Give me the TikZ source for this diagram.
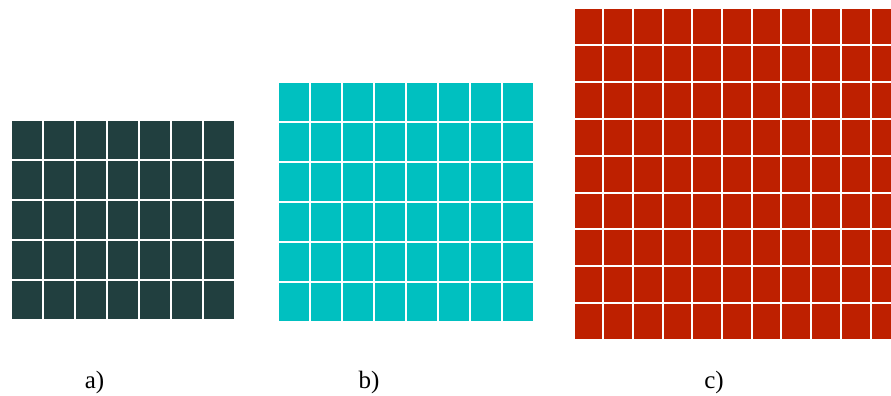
\documentclass[tikz,border=0pt]{standalone}
\usepackage{fontspec}
\setmainfont{Liberation Serif}
\definecolor{cA}{HTML}{213F3F}
\definecolor{cB}{HTML}{00C0C0}
\definecolor{cC}{HTML}{BE2000}
\tikzset{
  lbl/.style={font=\fontsize{25}{28}\selectfont, inner sep=0pt}
}
% #1 x0, #2 y0, #3 cols, #4 rows, #5 w, #6 h, #7 colour
\newcommand{\mygrid}[7]{%
  \foreach \i in {1,...,#3}{%
    \foreach \j in {1,...,#4}{%
      \fill[#7] ({#1+(\i-1)*#5+1},{#2+(\j-1)*#6+1}) rectangle ({#1+\i*#5-1},{#2+\j*#6-1});
    }%
  }%
}
\begin{document}
\begin{tikzpicture}[x=1pt,y=-1pt]
\useasboundingbox (0,0) rectangle (891,396);
\clip (0,0) rectangle (891,396);
\mygrid{10.5}{120}{7}{5}{32}{40}{cA}
\mygrid{278}{82}{8}{6}{32}{40}{cB}
\mygrid{573.5}{8.5}{11}{9}{29.7}{36.8}{cC}
\node[lbl] (la) at (94.5,382) {a)};
\node[lbl] (lb) at (369,382) {b)};
\node[lbl] (lc) at (714,382) {c)};
\end{tikzpicture}
\end{document}
